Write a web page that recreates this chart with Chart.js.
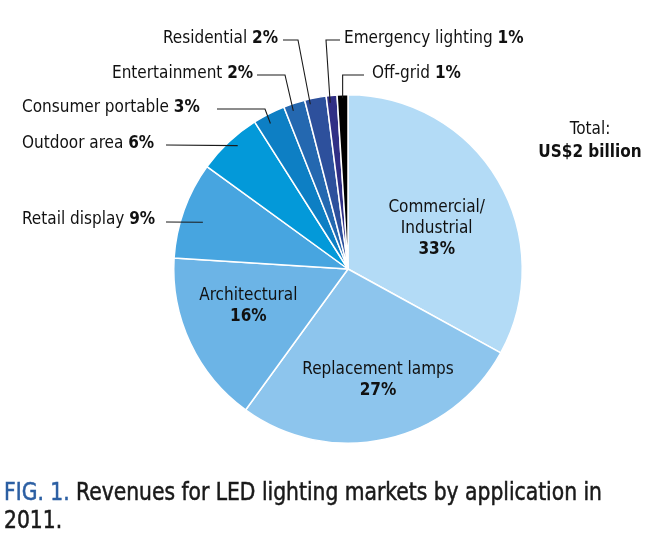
<!DOCTYPE html>
<html>
<head>
<meta charset="utf-8">
<script src="https://cdn.jsdelivr.net/npm/chart.js@4/dist/chart.umd.min.js"></script>
<style>
  html, body { margin: 0; padding: 0; background: #ffffff; }
  #wrap { position: relative; width: 669px; height: 535px; }
</style>
</head>
<body>
<div id="wrap"><canvas id="c" width="669" height="535"></canvas></div>
<script>
// ---- data ----
const categories = ['Commercial/Industrial', 'Replacement lamps', 'Architectural', 'Retail display',
  'Outdoor area', 'Consumer portable', 'Entertainment', 'Residential', 'Emergency lighting', 'Off-grid'];
const shares = [33, 27, 16, 9, 6, 3, 2, 2, 1, 1];
const sliceColors = ['#b3dbf6', '#8dc5ed', '#6cb4e6', '#47a5e0', '#0399d9', '#0d7fc4',
  '#2468b0', '#2d509c', '#302f85', '#000000'];
const totalLabel = ['Total:', 'US$2 billion'];
const captionLead = 'FIG. 1.';
const captionLines = [' Revenues for LED lighting markets by application in', '2011.'];

// ---- layout of annotations ----
const FONT = '"DejaVu Sans Condensed", "DejaVu Sans", sans-serif';
const FS = 17;
// inner labels: slice index, angular fraction, radius fraction, text lines (last line bold)
const innerLabels = [
  { i: 0, t: 0.55, rf: 0.56, lines: ['Commercial/', 'Industrial'] },
  { i: 1, t: 0.474, rf: 0.66, lines: ['Replacement lamps'] },
  { i: 2, t: 0.585, rf: 0.61, lines: ['Architectural'] }
];
// outer labels: text anchor, line start, knee, slice endpoint (t, rf)
const outerLabels = [
  { i: 9, x: 372, y: 74, ls: [364, 75], knee: null, t: 0.5, rf: 0.98, vertical: true },
  { i: 8, x: 344, y: 39, ls: [340, 40], knee: [326, 40], t: 0.3, rf: 0.96 },
  { i: 7, x: 163, y: 39, ls: [283, 40], knee: [298, 40], t: 0.21, rf: 0.97 },
  { i: 6, x: 112, y: 74, ls: [257, 75], knee: [285, 75], t: 0.35, rf: 0.96 },
  { i: 5, x: 22, y: 108, ls: [217, 109], knee: [265, 109], t: 0.4, rf: 0.946 },
  { i: 4, x: 22, y: 144, ls: [166, 145], knee: null, t: 0.565, rf: 0.95 },
  { i: 3, x: 22, y: 220, ls: [166, 222], knee: null, t: 0.44, rf: 0.875 }
];

function arcPoint(arc, t, rf) {
  const a = arc.startAngle + (arc.endAngle - arc.startAngle) * t;
  const r = arc.outerRadius * rf;
  return [arc.x + r * Math.cos(a), arc.y + r * Math.sin(a)];
}

const annotate = {
  id: 'annotate',
  afterDatasetsDraw(chart) {
    const ctx = chart.ctx;
    const arcs = chart.getDatasetMeta(0).data;
    ctx.save();
    ctx.fillStyle = '#111111';
    ctx.textBaseline = 'middle';

    // inner labels
    innerLabels.forEach(L => {
      const [cx, cy] = arcPoint(arcs[L.i], L.t, L.rf);
      const lines = L.lines.concat([shares[L.i] + '%']);
      const lh = 21;
      const top = cy - (lines.length - 1) * lh / 2;
      ctx.textAlign = 'center';
      lines.forEach((s, k) => {
        ctx.font = (k === lines.length - 1 ? 'bold ' : '') + FS + 'px ' + FONT;
        ctx.fillText(s, cx, top + k * lh);
      });
    });

    // outer labels
    ctx.strokeStyle = '#1a1a1a';
    ctx.lineWidth = 1.1;
    outerLabels.forEach(L => {
      const name = categories[L.i] + ' ';
      const pct = shares[L.i] + '%';
      ctx.textAlign = 'left';
      ctx.font = FS + 'px ' + FONT;
      const w1 = ctx.measureText(name).width;
      ctx.fillText(name, L.x, L.y);
      ctx.font = 'bold ' + FS + 'px ' + FONT;
      ctx.fillText(pct, L.x + w1, L.y);

      const end = arcPoint(arcs[L.i], L.t, L.rf);
      ctx.beginPath();
      ctx.moveTo(L.ls[0], L.ls[1]);
      if (L.vertical) {
        ctx.lineTo(end[0], L.ls[1]);
      } else if (L.knee) {
        ctx.lineTo(L.knee[0], L.knee[1]);
      }
      ctx.lineTo(end[0], end[1]);
      ctx.stroke();
    });

    // total
    ctx.textAlign = 'center';
    ctx.font = FS + 'px ' + FONT;
    ctx.fillText(totalLabel[0], 590, 130);
    ctx.font = 'bold ' + FS + 'px ' + FONT;
    ctx.fillText(totalLabel[1], 590, 153);

    // caption (slightly condensed horizontally)
    const CF = '24px "Liberation Sans Narrow", "DejaVu Sans Condensed", sans-serif';
    ctx.textAlign = 'left';
    ctx.textBaseline = 'alphabetic';
    ctx.font = CF;
    ctx.translate(4, 0);
    ctx.scale(0.94, 1);
    ctx.lineWidth = 0.5;
    ctx.fillStyle = '#2c5fa3';
    ctx.strokeStyle = '#2c5fa3';
    ctx.fillText(captionLead, 0, 500);
    ctx.strokeText(captionLead, 0, 500);
    const wl = ctx.measureText(captionLead).width;
    ctx.fillStyle = '#1a1a1a';
    ctx.strokeStyle = '#1a1a1a';
    ctx.fillText(captionLines[0], wl, 500);
    ctx.strokeText(captionLines[0], wl, 500);
    ctx.fillText(captionLines[1], 0, 528);
    ctx.strokeText(captionLines[1], 0, 528);
    ctx.restore();
  }
};

new Chart(document.getElementById('c'), {
  type: 'pie',
  data: {
    labels: categories,
    datasets: [{
      data: shares,
      backgroundColor: sliceColors,
      borderColor: '#ffffff',
      borderWidth: 1.5
    }]
  },
  options: {
    responsive: false,
    animation: false,
    layout: { padding: { left: 173, right: 146, top: 94, bottom: 91 } },
    plugins: { legend: { display: false }, tooltip: { enabled: false } }
  },
  plugins: [annotate]
});
</script>
</body>
</html>
